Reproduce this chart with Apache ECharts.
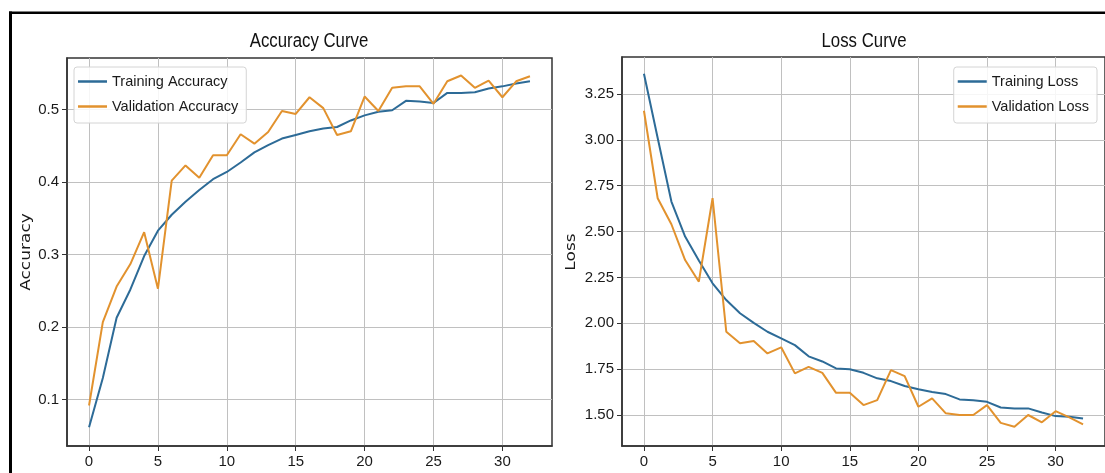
<!DOCTYPE html>
<html><head><meta charset="utf-8">
<script src="https://cdn.jsdelivr.net/npm/echarts@6/dist/echarts.min.js"></script>
<style>html,body{margin:0;padding:0;background:#fff}#c{width:1105px;height:473px}</style>
</head><body><div id="c"></div>
<script>
// ---- data ----
const epochs = [0,1,2,3,4,5,6,7,8,9,10,11,12,13,14,15,16,17,18,19,20,21,22,23,24,25,26,27,28,29,30,31,32];
const trainAcc = [0.062,0.130,0.213,0.252,0.298,0.333,0.355,0.373,0.389,0.404,0.414,0.427,0.441,0.451,0.460,0.465,0.470,0.474,0.476,0.485,0.492,0.497,0.499,0.512,0.511,0.509,0.523,0.523,0.524,0.529,0.532,0.536,0.539];
const valAcc = [0.092,0.207,0.256,0.287,0.331,0.253,0.402,0.423,0.406,0.437,0.437,0.466,0.453,0.469,0.498,0.494,0.517,0.502,0.465,0.470,0.518,0.498,0.530,0.532,0.532,0.508,0.539,0.547,0.530,0.540,0.517,0.539,0.546];
const trainLoss = [3.361,3.010,2.664,2.473,2.342,2.218,2.127,2.055,2.002,1.954,1.918,1.881,1.820,1.792,1.754,1.749,1.730,1.700,1.685,1.658,1.640,1.625,1.614,1.585,1.581,1.572,1.541,1.536,1.536,1.514,1.494,1.490,1.481];
const valLoss = [3.159,2.682,2.540,2.345,2.227,2.682,1.954,1.891,1.903,1.836,1.869,1.727,1.762,1.730,1.621,1.621,1.554,1.581,1.745,1.712,1.545,1.591,1.509,1.500,1.500,1.554,1.457,1.436,1.500,1.460,1.521,1.487,1.449];
const xTicks = [0,5,10,15,20,25,30];
const accTicks = [0.1,0.2,0.3,0.4,0.5];
const lossTicks = [1.50,1.75,2.00,2.25,2.50,2.75,3.00,3.25];
const titles = ['Accuracy Curve','Loss Curve'];
const yNames = ['Accuracy','Loss'];
const seriesNames = ['Training Accuracy','Validation Accuracy','Training Loss','Validation Loss'];

// ---- style ----
const FONT = "'Liberation Sans','Arimo',sans-serif";
const DV = "'DejaVu Sans',sans-serif";
const BLUE = '#2d6b97', ORANGE = '#e2922e';
const GRIDC = '#c0c0c0', AXC = '#333';

function pairs(ys){ return epochs.map((e,i)=>[e, ys[i]]); }

function xAxisCfg(idx){
  return {
    type:'value', gridIndex: idx, min:-1.6, max:33.6,
    axisLine:{show:true, onZero:false, lineStyle:{color:AXC, width:1.5}},
    axisTick:{show:true, length:5, customValues:xTicks, lineStyle:{color:AXC}},
    axisLabel:{customValues:xTicks, fontSize:15, color:'#1a1a1a', margin:8, fontFamily:FONT},
    splitLine:{show:true, lineStyle:{color:GRIDC, width:1}}
  };
}
function yAxisCfg(idx, min, max, ticks, fmt){
  return {
    type:'value', gridIndex: idx, min:min, max:max,
    axisLine:{show:true, onZero:false, lineStyle:{color:AXC, width:1.5}},
    axisTick:{show:true, length:5, customValues:ticks, lineStyle:{color:AXC}},
    axisLabel:{customValues:ticks, fontSize:15, color:'#1a1a1a', margin:8, fontFamily:FONT, formatter:fmt},
    splitLine:{show:true, lineStyle:{color:GRIDC, width:1}}
  };
}
function line(name, data, color, xi, yi){
  return {
    type:'line', name:name, data:data, xAxisIndex:xi, yAxisIndex:yi,
    symbol:'none', smooth:false, color:color,
    itemStyle:{color:color}, lineStyle:{color:color, width:2}, animation:false
  };
}
function legendCfg(names, pos){
  return Object.assign({
    data:names, orient:'vertical', icon:'rect', itemWidth:29, itemHeight:2.5,
    itemGap:8, selectedMode:false,
    textStyle:{fontSize:14.5, fontFamily:FONT, color:'#1a1a1a', lineHeight:17},
    backgroundColor:'rgba(255,255,255,0.85)', borderColor:'#d4d4d4', borderWidth:1, borderRadius:3,
    padding:[6,8,8,4]
  }, pos);
}
function yLabel(text, x){
  return {type:'text', x:x, y:252, rotation:Math.PI/2, scaleY:0.78,
    style:{text:text, align:'center', verticalAlign:'middle', fontSize:17, fontFamily:DV, fill:'#1a1a1a'}};
}

const chart = echarts.init(document.getElementById('c'), null, {renderer:'canvas'});
chart.setOption({
  animation:false,
  backgroundColor:'#fff',
  grid:[
    {left:67, top:58, width:485, height:388, show:true, borderColor:AXC, borderWidth:1.5, backgroundColor:'#fff'},
    {left:622, top:57, width:484, height:389, show:true, borderColor:AXC, borderWidth:1.5, backgroundColor:'#fff'}
  ],
  xAxis:[xAxisCfg(0), xAxisCfg(1)],
  yAxis:[
    yAxisCfg(0, 0.0362, 0.5711, accTicks, v=>v.toFixed(1)),
    yAxisCfg(1, 1.331, 3.452, lossTicks, v=>v.toFixed(2))
  ],
  legend:[
    legendCfg([seriesNames[0],seriesNames[1]], {left:74, top:67}),
    legendCfg([seriesNames[2],seriesNames[3]], {right:8, top:67})
  ],
  series:[
    line(seriesNames[0], pairs(trainAcc), BLUE, 0, 0),
    line(seriesNames[1], pairs(valAcc), ORANGE, 0, 0),
    line(seriesNames[2], pairs(trainLoss), BLUE, 1, 1),
    line(seriesNames[3], pairs(valLoss), ORANGE, 1, 1)
  ],
  graphic:[
    {type:'rect', shape:{x:9, y:11.5, width:1096, height:2.5}, style:{fill:'#000'}, silent:true},
    {type:'rect', shape:{x:9, y:11.5, width:3, height:462}, style:{fill:'#000'}, silent:true},
    {type:'text', x:309, y:41, scaleX:0.84, style:{text:titles[0], align:'center', verticalAlign:'middle', fontSize:20, fontFamily:FONT, fill:'#111'}},
    {type:'text', x:864, y:41, scaleX:0.84, style:{text:titles[1], align:'center', verticalAlign:'middle', fontSize:20, fontFamily:FONT, fill:'#111'}},
    yLabel(yNames[0], 27),
    yLabel(yNames[1], 572)
  ]
});
</script>
</body></html>
